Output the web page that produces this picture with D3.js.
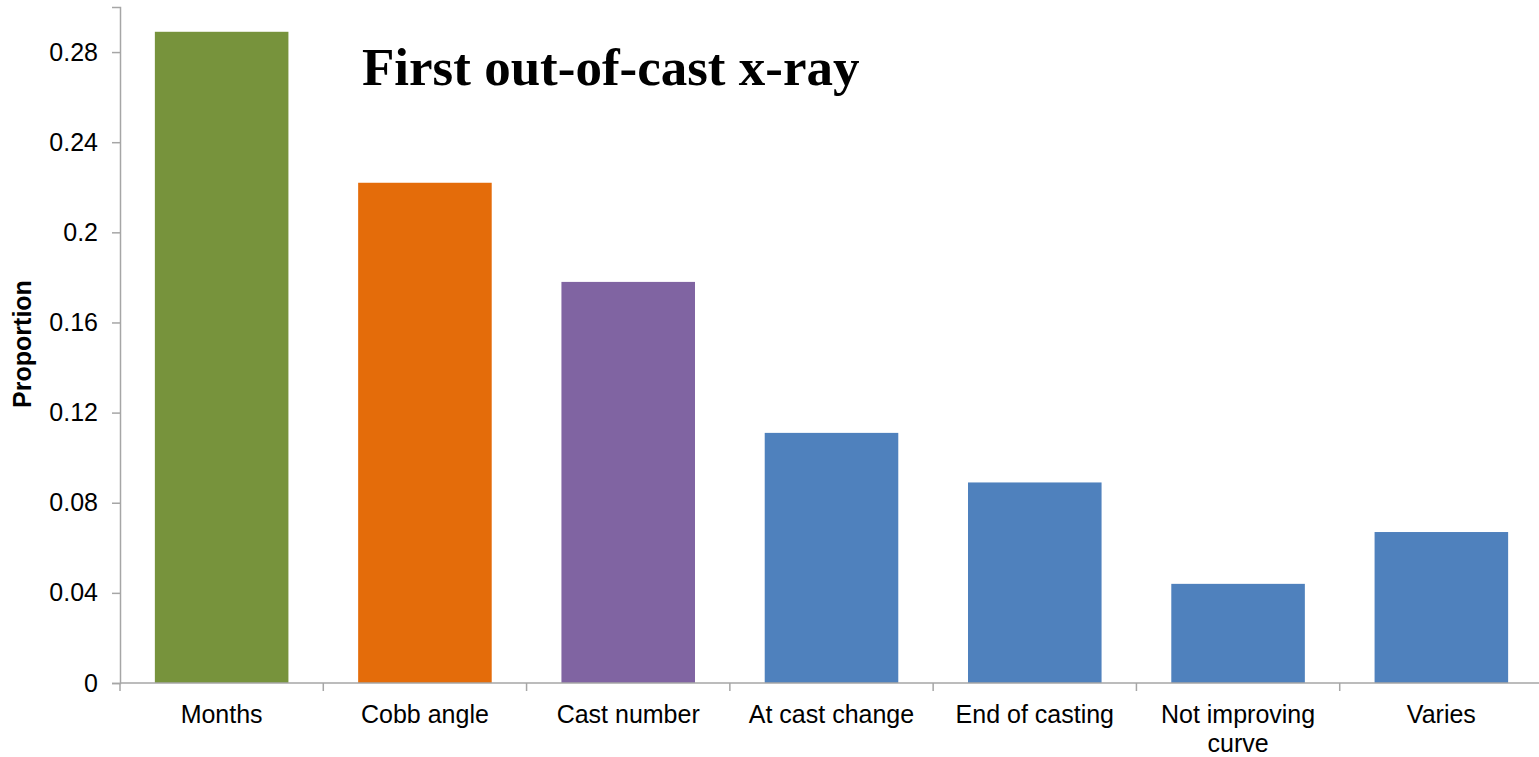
<!DOCTYPE html>
<html>
<head>
<meta charset="utf-8">
<script src="https://cdn.jsdelivr.net/npm/d3@7"></script>
<style>
  body { margin: 0; background: #fff; }
  svg { display: block; }
</style>
</head>
<body>
<svg id="chart" width="1539" height="757"></svg>
<script>
// data
let categories = ["Months", "Cobb angle", "Cast number", "At cast change", "End of casting", "Not improving curve", "Varies"]
let proportions = [0.289, 0.222, 0.178, 0.111, 0.089, 0.044, 0.067]
let barColors = ["#77933C", "#E46C0A", "#8064A2", "#4F81BD", "#4F81BD", "#4F81BD", "#4F81BD"]
let yTicks = [0, 0.04, 0.08, 0.12, 0.16, 0.2, 0.24, 0.28]
let chartTitle = "First out-of-cast x-ray"
let yTitle = "Proportion"

let svg = d3.select("#chart")

// plot area
let plotLeft = 120, plotRight = 1543, plotTop = 7, plotBottom = 683

let xscale = d3.scaleBand()
	.domain(categories)
	.range([plotLeft, plotRight])
	.paddingInner(0.343)
	.paddingOuter(0.1715)

let yscale = d3.scaleLinear()
	.domain([0, 0.3])
	.range([plotBottom, plotTop])

let axisColor = "#a6a6a6"

// bars
svg.append("g").selectAll("rect")
	.data(categories)
	.enter()
	.append("rect")
	.attr("x", d => xscale(d))
	.attr("width", xscale.bandwidth())
	.attr("y", (d, i) => yscale(proportions[i]))
	.attr("height", (d, i) => yscale(0) - yscale(proportions[i]))
	.attr("fill", (d, i) => barColors[i])

// y axis
let yAxis = svg.append("g")
	.attr("transform", "translate(" + plotLeft + ",0)")
	.call(d3.axisLeft(yscale).tickValues(yTicks).tickSize(8).tickPadding(14)
		.tickFormat(d => d3.format("~g")(d)))
yAxis.select(".domain").attr("stroke", axisColor).attr("stroke-width", 1.5)
yAxis.selectAll(".tick line").attr("stroke", axisColor).attr("stroke-width", 1.5)
yAxis.selectAll("text")
	.attr("fill", "#000")
	.style("font-family", "'Liberation Sans', Arial, sans-serif")
	.style("font-size", "25px")

// x axis: line plus ticks at band boundaries
let step = xscale.step()
let x0 = xscale(categories[0]) - xscale.paddingOuter() * step
let bounds = d3.range(categories.length + 1).map(i => x0 + i * step)

let xAxis = svg.append("g")
xAxis.append("line")
	.attr("x1", plotLeft).attr("x2", plotRight)
	.attr("y1", yscale(0)).attr("y2", yscale(0))
	.attr("stroke", axisColor).attr("stroke-width", 1.5)
xAxis.selectAll(".xtick")
	.data(bounds)
	.enter()
	.append("line")
	.attr("x1", d => d).attr("x2", d => d)
	.attr("y1", yscale(0)).attr("y2", yscale(0) + 8)
	.attr("stroke", axisColor).attr("stroke-width", 1.5)

// category labels (wrap the long one)
let labelLines = {"Not improving curve": ["Not improving", "curve"]}
xAxis.selectAll(".xlabel")
	.data(categories)
	.enter()
	.append("text")
	.attr("text-anchor", "middle")
	.style("font-family", "'Liberation Sans', Arial, sans-serif")
	.style("font-size", "25px")
	.attr("fill", "#000")
	.each(function(d) {
		let lines = labelLines[d] || [d]
		let t = d3.select(this)
		lines.forEach((l, i) => {
			t.append("tspan")
				.attr("x", xscale(d) + xscale.bandwidth() / 2)
				.attr("y", 723 + i * 29)
				.text(l)
		})
	})

// y axis title
svg.append("text")
	.attr("transform", "translate(31," + 344 + ") rotate(-90)")
	.attr("text-anchor", "middle")
	.style("font-family", "'Liberation Sans', Arial, sans-serif")
	.style("font-size", "25px")
	.style("font-weight", "bold")
	.text(yTitle)

// chart title
svg.append("text")
	.attr("x", 362)
	.attr("y", 85)
	.style("font-family", "'Liberation Serif', 'Times New Roman', serif")
	.style("font-size", "53px")
	.style("font-weight", "bold")
	.text(chartTitle)
</script>
</body>
</html>
